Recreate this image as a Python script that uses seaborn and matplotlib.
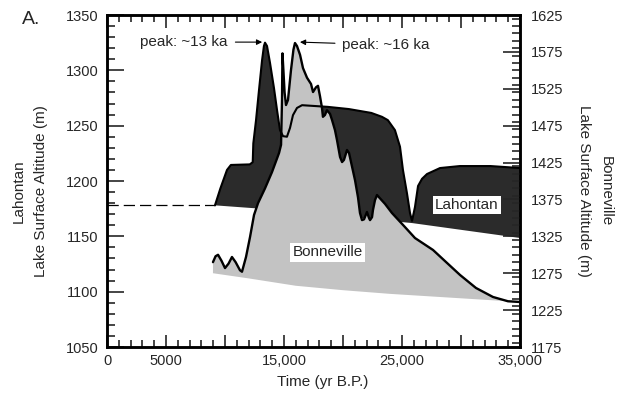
import numpy as np
import matplotlib
matplotlib.use("Agg")
import matplotlib.pyplot as plt
from matplotlib.ticker import MultipleLocator
import seaborn as sns

sns.set_style("ticks")
plt.rcParams["font.family"] = ["Liberation Sans", "DejaVu Sans"]

# Lake Lahontan hydrograph (left axis, m)
lah_t = np.array([9150, 9600, 10170, 10500, 12100, 12350, 12400, 12630, 12880, 13140,
                  13300, 13390, 13560, 13810, 14150, 14410, 14660, 14920, 15250, 15510,
                  15760, 16100, 16530, 18700, 20500, 22400, 23300, 23800, 24400, 24830,
                  25080, 25420, 25680, 25850, 26100, 26360, 26700, 27120, 28220, 29900,
                  32500, 35000])
lah_alt = np.array([1178, 1193, 1210, 1214.5, 1215, 1217, 1234, 1255, 1282, 1309,
                    1322, 1325, 1322, 1307, 1284, 1264, 1246, 1240.5, 1240, 1248,
                    1259.5, 1266, 1268.5, 1267, 1265, 1261.5, 1258, 1255, 1246, 1231,
                    1210, 1189, 1171, 1164, 1176.5, 1195.5, 1202, 1206.3, 1211.7, 1213.5,
                    1213.5, 1211.7])
# lower edge of the Lahontan band
lah_floor_t = np.array([9150, 13000, 20000, 25850, 35000])
lah_floor_alt = np.array([1178, 1175, 1168, 1162, 1148.5])
# undocumented early Holocene level (dashed)
lah_dash_t = np.array([0, 9150])
lah_dash_alt = np.array([1178, 1178])

# Lake Bonneville hydrograph (right axis, m)
bon_t = np.array([8980, 9200, 9410, 9700, 10000, 10300, 10590, 10900, 11270, 11440,
                  11780, 12120, 12460, 12800, 13390, 13980, 14580, 14750, 14830, 14870,
                  14950, 15050, 15170, 15340, 15590, 15800, 15930, 16100, 16360, 16610,
                  16950, 17290, 17460, 17710, 17880, 18050, 18220, 18300, 18470, 18640,
                  18900, 19070, 19320, 19490, 19750, 19920, 20080, 20340, 20510, 20680,
                  21020, 21270, 21440, 21610, 21780, 22030, 22200, 22290, 22460, 22540,
                  22710, 22880, 23560, 24150, 25250, 26100, 27630, 28810, 29920, 31270,
                  32710, 33980, 35000])
bon_alt = np.array([1290, 1298, 1300, 1292, 1282, 1288, 1297, 1290, 1279, 1277,
                    1297, 1324, 1354, 1370, 1390, 1412, 1438, 1449, 1510, 1573,
                    1550, 1520, 1503, 1510, 1550, 1578, 1587, 1583, 1571, 1553,
                    1540, 1531.5, 1520.6, 1527, 1529, 1515, 1499, 1487, 1489.5, 1496,
                    1491, 1482.7, 1469, 1455.6, 1432.5, 1425.7, 1428.5, 1442, 1438, 1425.7,
                    1401, 1378, 1356.6, 1347, 1348, 1358, 1350, 1347, 1351, 1360.7,
                    1374, 1381, 1369, 1356.6, 1337.6, 1322.7, 1306.5, 1289, 1272.6, 1255,
                    1242.8, 1237, 1236])
# lower edge of the Bonneville shading
bon_floor_t = np.array([8980, 12000, 16000, 20000, 24000, 28000, 32000, 35000])
bon_floor_alt = np.array([1275, 1268, 1258, 1252, 1247, 1243, 1239, 1236])

x_ticks = [0, 5000, 10000, 15000, 20000, 25000, 30000, 35000]
x_tick_labels = ["0", "5000", "", "15,000", "", "25,000", "", "35,000"]
left_ticks = list(range(1050, 1351, 50))
right_ticks = list(range(1175, 1626, 50))

dark = "#2b2b2b"
light = "#c3c3c3"
fs = 10.5

fig = plt.figure(figsize=(6.22, 4.0), dpi=100)
ax = fig.add_axes([107 / 622, 53 / 400, 413 / 622, 332 / 400])
ax2 = ax.twinx()
ax3 = ax.twinx()

# Lahontan band
ax.fill(np.r_[lah_t, lah_floor_t[::-1]], np.r_[lah_alt, lah_floor_alt[::-1]],
        color=dark, lw=0)

# Bonneville shading and curve
ax2.fill(np.r_[bon_t, bon_floor_t[::-1]], np.r_[bon_alt, bon_floor_alt[::-1]],
         color=light, lw=0)
sns.lineplot(x=bon_t, y=bon_alt, ax=ax2, color="black", lw=1.7, sort=False,
             estimator=None)

# Lahontan curve drawn above everything
sns.lineplot(x=lah_t, y=lah_alt, ax=ax3, color="black", lw=1.5, sort=False,
             estimator=None)
sns.lineplot(x=lah_dash_t, y=lah_dash_alt, ax=ax3, color="black", lw=0.9,
             sort=False, estimator=None, dashes=False, linestyle=(0, (9, 4)))

for a in (ax, ax2, ax3):
    a.set_xlim(0, 35000)
ax.set_ylim(1050, 1350)
ax3.set_ylim(1050, 1350)
ax2.set_ylim(1175, 1625)
ax3.axis("off")

ax.set_xticks(x_ticks)
ax.set_xticklabels(x_tick_labels, fontsize=fs)
ax.xaxis.set_minor_locator(MultipleLocator(1000))
ax.set_yticks(left_ticks)
ax.set_yticklabels([str(v) for v in left_ticks], fontsize=fs)
ax.yaxis.set_minor_locator(MultipleLocator(10))
ax2.set_yticks(right_ticks)
ax2.set_yticklabels([str(v) for v in right_ticks], fontsize=fs)
ax2.yaxis.set_minor_locator(MultipleLocator(10))

ax.tick_params(axis="x", which="both", direction="in", top=True, bottom=True, width=1.2)
ax.tick_params(axis="x", which="major", length=9, pad=5)
ax.tick_params(axis="x", which="minor", length=5)
ax.tick_params(axis="y", which="both", direction="in", left=True, right=False, width=1.2)
ax.tick_params(axis="y", which="major", length=12, pad=6)
ax.tick_params(axis="y", which="minor", length=6)
ax2.tick_params(axis="y", which="both", direction="in", width=1.2)
ax2.tick_params(axis="y", which="major", length=12, pad=8)
ax2.tick_params(axis="y", which="minor", length=6)

for a in (ax, ax2):
    for s in a.spines.values():
        s.set_linewidth(1.8)
        s.set_color("black")

ax.set_xlabel("Time (yr B.P.)", fontsize=11)
ax.xaxis.set_label_coords(0.523, -0.085)
ax.set_ylabel("Lahontan\nLake Surface Altitude (m)", fontsize=11, linespacing=1.75)
ax.yaxis.set_label_coords(-0.143, 0.47)
ax2.set_ylabel("Bonneville\nLake Surface Altitude (m)", fontsize=11, linespacing=1.75,
               rotation=270, va="bottom")
ax2.yaxis.set_label_coords(1.138, 0.47)

arrow = dict(arrowstyle="-|>", color="black", lw=0.8, mutation_scale=8,
             shrinkA=3, shrinkB=0)
ax3.annotate("peak: ~13 ka", xy=(13150, 1325.5), xytext=(10250, 1325.5),
             ha="right", va="center", fontsize=11, arrowprops=arrow)
ax3.annotate("peak: ~16 ka", xy=(16350, 1325.5), xytext=(19950, 1323),
             ha="left", va="center", fontsize=11, arrowprops=arrow)

ax3.text(30500, 1178, "Lahontan", ha="center", va="center", fontsize=11,
         bbox=dict(facecolor="white", edgecolor="none", pad=1.5))
ax3.text(18700, 1135.5, "Bonneville", ha="center", va="center", fontsize=11,
         bbox=dict(facecolor="white", edgecolor="none", pad=1.5))

fig.text(22 / 622, 1 - 20 / 400, "A.", fontsize=14, ha="left", va="center")

fig.savefig("out.png", dpi=100)
